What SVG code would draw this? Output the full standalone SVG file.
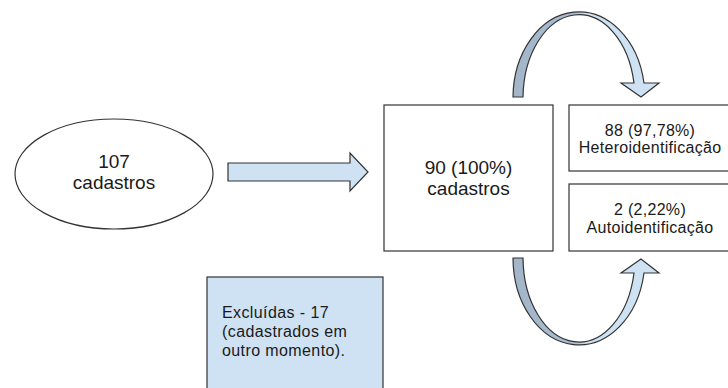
<svg xmlns="http://www.w3.org/2000/svg" width="728" height="388" viewBox="0 0 728 388">
<defs>
<style>
.ln{stroke:#333;stroke-width:1.2;}
.t{font-family:"Liberation Sans",Arial,sans-serif;fill:#1a1a1a;}
.big{font-size:19px;text-anchor:middle;}
.mid{font-size:16px;text-anchor:middle;letter-spacing:0.3px;}
.sm{font-size:16px;letter-spacing:0.4px;}
</style>
<linearGradient id="gTop" gradientUnits="userSpaceOnUse" x1="513" y1="0" x2="659" y2="0">
<stop offset="0" stop-color="#a3b6c9"/>
<stop offset="0.42" stop-color="#a9bccf"/>
<stop offset="0.5" stop-color="#cfe2f3"/>
<stop offset="1" stop-color="#cfe2f3"/>
</linearGradient>
</defs>
<rect width="728" height="388" fill="#fff"/>
<g id="connectors">
<path class="ln" fill="#cfe2f3" d="M228,163 L350,163 L350,153 L368,172 L350,191 L350,181 L228,181 Z"/>
<path class="ln" fill="url(#gTop)" d="M513,97 A66,86 0 0 1 644,83 L659,83 L641,97 L621,83 L634,83 A56,84 0 0 0 523,97 Z"/>
<path class="ln" fill="url(#gTop)" d="M513,258 A66,87 0 0 0 644,273 L659,273 L641,259 L621,273 L634,273 A56,85 0 0 1 523,258 Z"/>
</g>
<g id="node-107">
<ellipse class="ln" cx="114" cy="174" rx="99" ry="55" fill="#fff"/>
<text class="t big" x="114" y="168">107</text>
<text class="t big" x="114" y="189">cadastros</text>
</g>
<g id="node-90">
<rect class="ln" x="384" y="105" width="169" height="146" fill="#fff"/>
<text class="t big" x="468.5" y="174">90 (100%)</text>
<text class="t big" x="468.5" y="195">cadastros</text>
</g>
<g id="node-hetero">
<rect class="ln" x="569" y="105" width="165" height="66" fill="#fff"/>
<text class="t mid" x="650" y="136">88 (97,78%)</text>
<text class="t mid" x="650" y="153">Heteroidentificação</text>
</g>
<g id="node-auto">
<rect class="ln" x="569" y="184" width="165" height="67" fill="#fff"/>
<text class="t mid" x="650" y="215">2 (2,22%)</text>
<text class="t mid" x="650" y="233">Autoidentificação</text>
</g>
<g id="node-excluidas">
<rect class="ln" x="207" y="277" width="176" height="120" fill="#cfe2f3"/>
<text class="t sm" x="222" y="318">Excluídas - 17</text>
<text class="t sm" x="222" y="337">(cadastrados em</text>
<text class="t sm" x="222" y="356">outro momento).</text>
</g>
</svg>
